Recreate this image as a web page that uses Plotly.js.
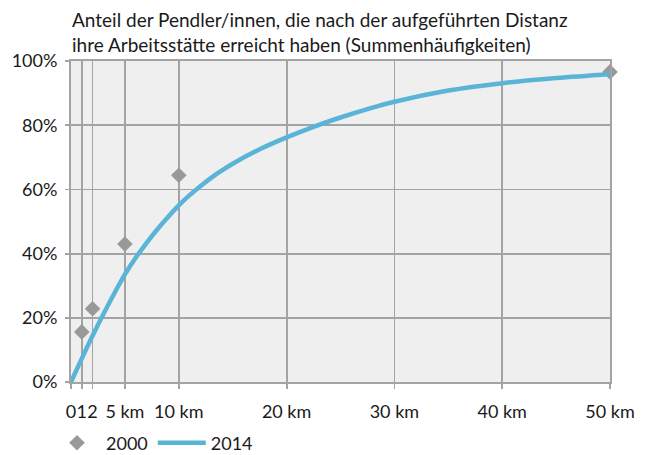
<!DOCTYPE html>
<html>
<head>
<meta charset="utf-8">
<script src="https://cdn.plot.ly/plotly-3.0.1.min.js"></script>
<style>html,body{margin:0;padding:0;background:#fff;}#chart{width:649px;height:455px;}</style>
</head>
<body>
<div id="chart"></div>
<script>
// Data
const km2000 = [1, 2, 5, 10, 50];
const share2000 = [0.156, 0.228, 0.43, 0.644, 0.966];
const km2014 = [0, 1, 2, 3, 4, 5, 6, 7, 8, 9, 10, 11, 12, 13, 14, 15, 17.5, 20, 22.5, 25, 27.5, 30, 35, 40, 45, 50];
const share2014 = [0, 0.073, 0.144, 0.211, 0.275, 0.335, 0.387, 0.433, 0.475, 0.514, 0.55, 0.582, 0.61, 0.636, 0.659, 0.68, 0.725, 0.762, 0.795, 0.824, 0.85, 0.873, 0.908, 0.931, 0.947, 0.959];
const xTickVals = [0, 1, 2, 5, 10, 20, 30, 40, 50];
const xTickText = ['0', '1', '2', '5 km', '10 km', '20 km', '30 km', '40 km', '50 km'];
const yTickVals = [0, 0.2, 0.4, 0.6, 0.8, 1.0];
const titleText = 'Anteil der Pendler/innen, die nach der aufgeführten Distanz<br>ihre Arbeitsstätte erreicht haben (Summenhäufigkeiten)';

const FONT = 'Lato, "Open Sans", sans-serif';
const gridC = '#a3a3a3';
const textC = '#1a1a1a';

const traces = [
  {
    x: km2000, y: share2000, name: '2000', type: 'scatter', mode: 'markers',
    marker: {symbol: 'diamond', size: 12, color: '#999999'},
    cliponaxis: false
  },
  {
    x: km2014, y: share2014, name: '2014', type: 'scatter', mode: 'lines',
    line: {color: '#5ab4d8', width: 4.5, shape: 'spline', smoothing: 1}
  }
];

const layout = {
  width: 649, height: 455,
  margin: {l: 71, r: 39, t: 61, b: 73, autoexpand: false},
  paper_bgcolor: '#ffffff',
  plot_bgcolor: '#efefef',
  font: {family: FONT, size: 18, color: textC},
  title: {
    text: titleText,
    xref: 'container', x: 72 / 649, xanchor: 'left',
    yref: 'container', y: 1 - 27 / 455, yanchor: 'middle',
    automargin: false,
    font: {family: FONT, size: 19, color: textC}
  },
  showlegend: true,
  legend: {
    orientation: 'h',
    xref: 'container', x: 48 / 649, xanchor: 'left',
    yref: 'container', y: 12 / 455, yanchor: 'middle',
    font: {family: FONT, size: 18, color: textC},
    itemwidth: 48, traceorder: 'normal',
    bgcolor: 'rgba(0,0,0,0)'
  },
  xaxis: {
    range: [0, 50], tickmode: 'array', tickvals: xTickVals, ticktext: xTickText,
    tickangle: 0,
    showgrid: true, gridcolor: gridC, gridwidth: 1.8,
    showline: true, linecolor: gridC, linewidth: 2, mirror: true,
    ticks: 'outside', ticklen: 5, tickcolor: gridC, tickwidth: 1.8,
    ticklabelstandoff: 7,
    zeroline: false, fixedrange: true
  },
  yaxis: {
    range: [0, 1.0], tickmode: 'array', tickvals: yTickVals, tickformat: '.0%',
    showgrid: true, gridcolor: gridC, gridwidth: 1.8,
    showline: true, linecolor: gridC, linewidth: 2, mirror: true,
    ticks: 'outside', ticklen: 4, tickcolor: gridC, tickwidth: 1.8,
    ticklabelstandoff: 4,
    zeroline: false, fixedrange: true
  }
};

Plotly.newPlot('chart', traces, layout, {displayModeBar: false, staticPlot: true});
</script>
</body>
</html>
